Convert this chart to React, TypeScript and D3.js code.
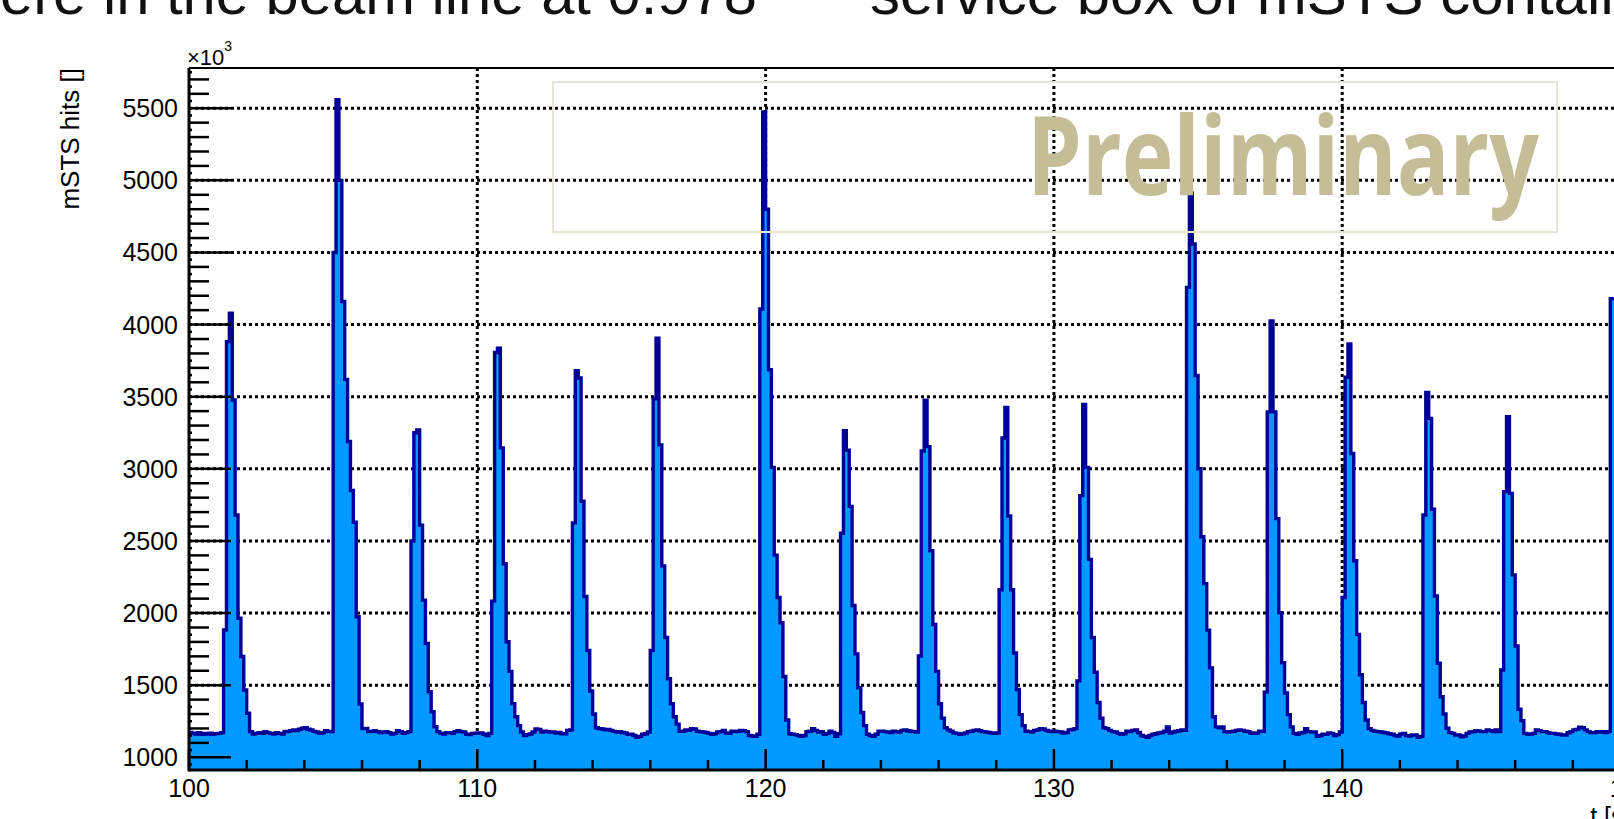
import React from 'react';
import * as d3 from 'd3';

// mSTS hits per 0.1 s bin, starting at t = 100.0 s; one row = one second
const hits = [
  1172, 1168, 1162, 1170, 1160, 1166, 1162, 1168, 1160, 1164,
  1166, 1171, 1883, 3882, 4079, 3477, 2680, 1964, 1699, 1467,
  1305, 1178, 1162, 1166, 1171, 1166, 1178, 1171, 1166, 1162,
  1171, 1166, 1162, 1178, 1180, 1185, 1189, 1185, 1195, 1201,
  1205, 1195, 1189, 1180, 1175, 1166, 1170, 1185, 1180, 1178,
  4500, 5560, 5000, 4160, 3620, 3190, 2850, 2630, 1975, 1370,
  1200, 1200, 1178, 1180, 1185, 1178, 1171, 1175, 1178, 1171,
  1162, 1166, 1185, 1178, 1166, 1171, 1178, 2500, 3250, 3270,
  2610, 2090, 1790, 1455, 1316, 1212, 1178, 1166, 1162, 1171,
  1171, 1166, 1178, 1185, 1178, 1175, 1160, 1157, 1166, 1168,
  1169, 1169, 1160, 1151, 1166, 2083, 3807, 3837, 3145, 2342,
  1801, 1596, 1371, 1281, 1220, 1175, 1151, 1157, 1162, 1175,
  1196, 1193, 1175, 1181, 1178, 1175, 1175, 1169, 1172, 1163,
  1163, 1187, 1190, 2625, 3680, 3630, 2775, 2115, 1740, 1460,
  1300, 1205, 1199, 1196, 1190, 1193, 1187, 1180, 1175, 1178,
  1172, 1169, 1160, 1160, 1151, 1139, 1145, 1160, 1163, 1175,
  1741, 3485, 3906, 3166, 2327, 1831, 1545, 1371, 1281, 1230,
  1181, 1181, 1190, 1187, 1199, 1196, 1181, 1178, 1175, 1172,
  1166, 1160, 1163, 1175, 1178, 1187, 1169, 1166, 1181, 1178,
  1181, 1187, 1184, 1178, 1151, 1148, 1145, 1160, 4108, 5475,
  4800, 3687, 3010, 2402, 2108, 1933, 1560, 1259, 1163, 1160,
  1157, 1151, 1145, 1151, 1178, 1181, 1199, 1187, 1175, 1178,
  1160, 1166, 1181, 1172, 1145, 1163, 2553, 3265, 3130, 2740,
  2053, 1717, 1482, 1311, 1220, 1160, 1151, 1145, 1160, 1181,
  1181, 1178, 1175, 1172, 1181, 1178, 1175, 1187, 1190, 1184,
  1181, 1178, 1175, 1702, 3124, 3476, 3154, 2432, 1921, 1596,
  1371, 1272, 1205, 1190, 1181, 1169, 1166, 1160, 1163, 1169,
  1178, 1181, 1187, 1190, 1184, 1178, 1175, 1172, 1169, 1166,
  1169, 2162, 3214, 3425, 2673, 2162, 1723, 1470, 1296, 1220,
  1181, 1178, 1175, 1187, 1190, 1199, 1196, 1187, 1181, 1178,
  1181, 1178, 1175, 1169, 1172, 1190, 1193, 1199, 1530, 2814,
  3446, 3010, 2372, 1831, 1590, 1380, 1272, 1205, 1199, 1187,
  1178, 1175, 1166, 1160, 1163, 1181, 1178, 1187, 1190, 1172,
  1151, 1145, 1139, 1151, 1160, 1163, 1169, 1172, 1181, 1211,
  1169, 1175, 1181, 1184, 1190, 1187, 4258, 4911, 4559, 3647,
  3001, 2529, 2204, 1882, 1620, 1281, 1211, 1205, 1211, 1178,
  1175, 1178, 1181, 1187, 1190, 1187, 1181, 1178, 1169, 1166,
  1169, 1181, 1181, 1452, 3395, 4026, 3395, 2655, 2002, 1656,
  1446, 1296, 1211, 1166, 1160, 1169, 1172, 1199, 1178, 1175,
  1175, 1145, 1151, 1160, 1160, 1169, 1166, 1151, 1157, 1175,
  2108, 3635, 3866, 3106, 2363, 1852, 1572, 1380, 1259, 1199,
  1187, 1181, 1178, 1175, 1172, 1169, 1163, 1160, 1151, 1148,
  1162, 1166, 1150, 1148, 1155, 1155, 1139, 1145, 2680, 3530,
  3350, 2720, 2118, 1652, 1420, 1300, 1201, 1171, 1166, 1155,
  1155, 1143, 1148, 1166, 1175, 1178, 1185, 1182, 1178, 1178,
  1190, 1185, 1178, 1190, 1178, 1605, 2842, 3362, 2830, 2264,
  1772, 1333, 1254, 1166, 1160, 1162, 1166, 1190, 1185, 1178,
  1178, 1171, 1166, 1166, 1162, 1160, 1155, 1155, 1170, 1178,
  1190, 1194, 1208, 1205, 1190, 1178, 1171, 1171, 1178, 1175,
  1178, 1171, 1178, 4180, 4180,
];

const tStart = 100;
const tEnd = 150;
const binWidth = 0.1;
const yMin = 912;
const yMax = 5779;

const xMajor = [100, 110, 120, 130, 140, 150];
const yMajor = [1000, 1500, 2000, 2500, 3000, 3500, 4000, 4500, 5000, 5500];

const yTitle = 'mSTS hits []';
const xTitle = 't [s]';
const stamp = 'Preliminary';
const slideLeft = 'ere in the beam line at 0.978';
const slideRight = 'service box of mSTS contain';

const W = 1614;
const H = 819;
const frame = { left: 189, right: 1630.5, top: 68, bottom: 770 };
const rootFont = '"Liberation Sans", Arial, Helvetica, sans-serif';

export default function App() {
  const x = d3.scaleLinear().domain([tStart, tEnd]).range([frame.left, frame.right]);
  const y = d3.scaleLinear().domain([yMin, yMax]).range([frame.bottom, frame.top]);

  const pts: [number, number][] = hits.map((v, i) => [tStart + i * binWidth, v]);
  pts.push([tStart + hits.length * binWidth, hits[hits.length - 1]]);

  const area = d3.area<[number, number]>()
    .curve(d3.curveStepAfter)
    .x((d) => x(d[0]))
    .y0(frame.bottom)
    .y1((d) => y(d[1]));
  const line = d3.line<[number, number]>()
    .curve(d3.curveStepAfter)
    .x((d) => x(d[0]))
    .y((d) => y(d[1]));

  const xTicks = d3.range(tStart, tEnd + 1, 2);
  const yTicks = d3.range(950, yMax, 50);

  const dots = { stroke: '#000', strokeWidth: 3, strokeDasharray: '3 3' };

  return (
    <div style={{ position: 'absolute', left: 0, top: 0, width: W, height: H, overflow: 'hidden', background: '#fff' }}>
      <svg width={W} height={H} style={{ display: 'block' }}>
        <defs>
          <clipPath id="frameClip">
            <rect x={frame.left} y={frame.top} width={frame.right - frame.left} height={frame.bottom - frame.top} />
          </clipPath>
        </defs>

        {/* slide text cut off by the crop */}
        <g fontFamily={rootFont} fontSize={60} fill="#111">
          <text x={0} y={14} textLength={757} lengthAdjust="spacingAndGlyphs">{slideLeft}</text>
          <text x={870} y={14}>{slideRight}</text>
        </g>

        {/* grid */}
        <g fill="none" {...dots}>
          {yMajor.map((v) => (
            <line key={'gy' + v} x1={frame.left} x2={frame.right} y1={y(v)} y2={y(v)} />
          ))}
          {xMajor.filter((v) => v > tStart && v < tEnd).map((v) => (
            <line key={'gx' + v} x1={x(v)} x2={x(v)} y1={frame.top} y2={frame.bottom} />
          ))}
        </g>

        {/* histogram */}
        <g clipPath="url(#frameClip)">
          <path d={area(pts) || ''} fill="#0099ff" />
          <path d={line(pts) || ''} fill="none" stroke="#000099" strokeWidth={3.4} />
        </g>

        {/* preliminary stamp */}
        <rect x={553} y={82} width={1004} height={150} fill="none" stroke="#e8e5d8" strokeWidth={2} />
        <text x={1027} y={195} fontFamily='"Open Sans", "Liberation Sans", sans-serif' fontWeight="bold"
          fontSize={110} fill="#c5bd97" textLength={512} lengthAdjust="spacingAndGlyphs">{stamp}</text>

        {/* frame and axes */}
        <line x1={frame.left} x2={frame.right} y1={frame.top} y2={frame.top} stroke="#000" strokeWidth={2} />
        <line x1={frame.left} x2={frame.left} y1={frame.top} y2={frame.bottom + 1.5} stroke="#000" strokeWidth={3} />
        <line x1={frame.left} x2={frame.right} y1={frame.bottom} y2={frame.bottom} stroke="#000" strokeWidth={3} />
        <g stroke="#000" strokeWidth={2.5}>
          {yTicks.map((v) => {
            const len = v % 500 === 0 ? 42 : v % 100 === 0 ? 20 : 3;
            return <line key={'ty' + v} x1={frame.left} x2={frame.left + len} y1={y(v)} y2={y(v)} />;
          })}
          {xTicks.map((v) => {
            const len = v % 10 === 0 ? 21 : 10;
            return <line key={'tx' + v} x1={x(v)} x2={x(v)} y1={frame.bottom} y2={frame.bottom - len} />;
          })}
        </g>

        {/* labels */}
        <g fontFamily={rootFont} fill="#000">
          {yMajor.map((v) => (
            <text key={'ly' + v} x={178} y={y(v) + 9} fontSize={25} textAnchor="end">{v}</text>
          ))}
          {xMajor.map((v) => (
            <text key={'lx' + v} x={x(v)} y={797} fontSize={25} textAnchor="middle">{v}</text>
          ))}
          <text x={187} y={65} fontSize={22}>
            ×10<tspan fontSize={14} dy={-14}>3</tspan>
          </text>
          <text transform={`translate(79, ${frame.top}) rotate(-90)`} fontSize={26} textAnchor="end">{yTitle}</text>
          <text x={frame.right} y={825} fontSize={25} textAnchor="end">{xTitle}</text>
        </g>
      </svg>
    </div>
  );
}
